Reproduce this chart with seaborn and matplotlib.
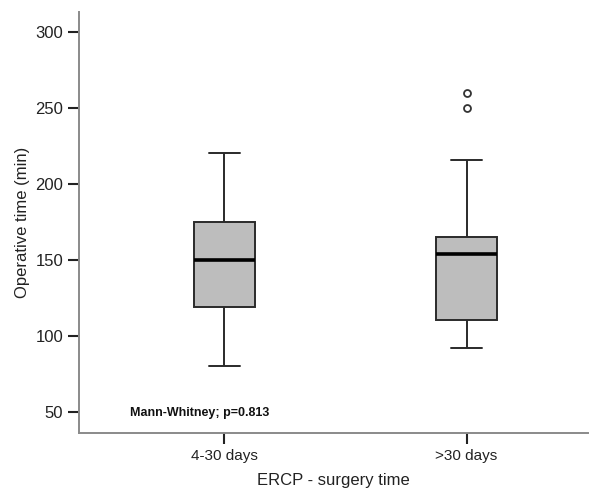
import pandas as pd
import seaborn as sns
import matplotlib.pyplot as plt

# operative times (min) per group, chosen to reproduce the box summaries
group_labels = ['4-30 days', '>30 days']
times_short = [80, 119, 150, 175, 220]
times_long = [92, 100, 105, 110, 130, 145, 154, 158, 162, 165, 216, 250, 260]

df = pd.DataFrame({
    'group': [group_labels[0]] * len(times_short) + [group_labels[1]] * len(times_long),
    'time': times_short + times_long,
})

sns.set_style('ticks')
plt.rcParams['font.family'] = ['Liberation Sans', 'DejaVu Sans']

fig = plt.figure(figsize=(5.9, 4.88), dpi=100)
ax = fig.add_axes([0.134, 0.113, 0.862, 0.862])

sns.boxplot(data=df, x='group', y='time', order=group_labels, width=0.25,
            color='#bdbdbd', saturation=1, linecolor='#2a2a2a', linewidth=1.4,
            medianprops=dict(color='black', linewidth=2.6),
            flierprops=dict(marker='o', markersize=5, markerfacecolor='white',
                            markeredgecolor='#333333', markeredgewidth=1.3),
            ax=ax)

ax.set_xlim(-0.6, 1.5)
ax.set_ylim(36, 313)
ax.set_yticks([50, 100, 150, 200, 250, 300])
ax.set_xlabel('ERCP - surgery time', fontsize=12, color='#222222', labelpad=7)
ax.set_ylabel('Operative time (min)', fontsize=12, color='#222222')
ax.tick_params(axis='both', labelcolor='#222222', color='#222222',
               length=8, width=1.5)
ax.tick_params(axis='y', labelsize=12)
ax.tick_params(axis='x', labelsize=11)
sns.despine(ax=ax)
for side in ['left', 'bottom']:
    ax.spines[side].set_color('#8a8a8a')
    ax.spines[side].set_linewidth(1.4)

ax.text(-0.39, 49, 'Mann-Whitney; p=0.813', fontsize=9, fontweight='bold',
        va='center', ha='left', color='#111111')

fig.savefig('out.png', dpi=100)
